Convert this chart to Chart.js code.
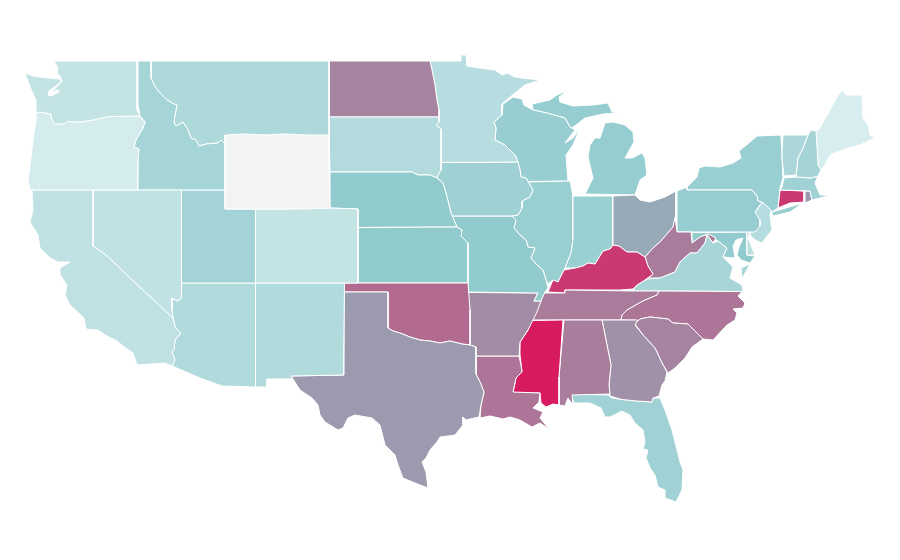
<!DOCTYPE html>
<html>
<head>
<meta charset="utf-8">
<script src="https://cdn.jsdelivr.net/npm/chart.js@4/dist/chart.umd.js"></script>
<style>
  html, body { margin: 0; background: #fff; }
  canvas { display: block; }
</style>
</head>
<body>
<canvas id="map" width="900" height="560"></canvas>
<script>
// Chart.js has no geo scale here, so the state outlines are x,y pairs read off
// the picture and plotted on two hidden linear axes.
const WA = [54,61, 137,61, 137,110, 139,114, 140,116, 109,116.5, 93,120, 80,122, 68,121.5, 64,124, 55,124, 52,120, 51,114, 40,112, 36,113, 36,100, 30,87, 25,73, 33,76, 40,77, 50,78, 60,79, 61,82, 49,91, 48,95, 51,96, 59,92, 58,90, 52,92, 62,81, 60,76, 57,74, 58,68];
const OR = [36,113, 40,112, 51,114, 52,120, 55,124, 64,124, 68,121.5, 80,122, 93,120, 109,116.5, 140,116, 145,122, 143,128, 136,140, 134,147, 139,149, 138,157, 137.5,190, 30,190, 28,180, 30,165, 33,140, 36,120];
const CA = [32,190, 93,190, 93,246, 106,255, 130,278, 145,292, 173,318, 175,327, 181,333, 175,340, 174,350, 172,352, 175,360, 172,366, 165,363, 137,365, 133,353, 123,346, 117,341, 105,335, 98,330, 86,329, 84,318, 70,305, 65,295, 67,285, 60,275, 60,268, 70,262, 58,262, 50,258, 40,248, 38,235, 30,222, 33,210];
const NV = [93,190, 181.5,190, 181.5,298, 177,301, 172,298, 172,310, 173,318, 145,292, 130,278, 106,255, 93,246];
const ID = [138,61, 151,61, 151,78, 155,87, 160,93, 167,100, 174,104, 177,105, 175,115, 174,122, 176,126, 183,122, 188,130, 191,138, 196,140, 199,146, 206,144, 218,143, 221,140, 225,144, 225,190, 138,190, 138,157, 139,149, 134,147, 136,140, 143,128, 145,122, 140,116, 139,110, 138,105];
const MT = [151,61, 329,61, 329,135, 307,135, 285,134, 265,135, 243,134, 225,135, 225,144, 221,140, 218,143, 206,144, 199,146, 196,140, 191,138, 188,130, 183,122, 176,126, 174,122, 175,115, 177,105, 174,104, 167,100, 160,93, 155,87, 151,78];
const WY = [225,135, 243,134, 265,135, 285,134, 307,135, 329,134, 329,172, 330,208, 305,209, 283,209, 255,209, 225,209];
const UT = [181.5,190, 225,190, 225,209, 255.5,209, 255.5,283, 181.5,283];
const CO = [255.5,209, 283,209, 305,208, 330,208, 358,209, 358,283, 255.5,283];
const AZ = [181.5,283, 255.5,283, 255.5,387, 222,386, 200,378, 172,366, 175,360, 172,352, 174,350, 175,340, 181,333, 175,327, 173,318, 172,310, 172,298, 177,301, 181.5,298];
const NM = [255.5,283, 344.5,283, 343.5,375, 291,376, 293,379, 267,379, 267,387, 255.5,387];
const TX = [344,292, 388,292, 388,328, 393,331, 400,333, 410,337, 420,340, 430,341, 440,343, 450,341, 462,344, 470,345, 476,347, 476,374, 480,382, 484,392, 481,405, 479,417, 466,420, 463,417, 463,425, 455,435, 440,437, 437,442, 430,450, 426,458, 422,462, 426,472, 428,488, 415,483, 403,478, 398,465, 395,455, 385,445, 380,425, 372,418, 355,415, 348,418, 343,428, 338,430, 325,422, 320,415, 318,405, 312,398, 300,390, 291,376, 344,375];
const OK = [344,283, 468,283, 470,310, 470,345, 462,344, 450,341, 440,343, 430,341, 420,340, 410,337, 400,333, 393,331, 388,328, 388,292, 344,292];
const KS = [358,227.5, 457,227, 462,230, 461,236, 468,243, 468,283, 358,283];
const NE = [330,172, 412,172, 418,175, 430,175, 437,178, 443,183, 447,197, 451,213, 457,227, 358,227.5, 358,209, 330,208];
const SD = [329.5,117, 439,117, 439,122, 436,125, 441,129, 441,170, 439,173, 437,178, 430,175, 418,175, 412,172, 330,172, 329,134];
const ND = [329.5,61, 430,61, 432,70, 435,85, 437,100, 439,110, 439,117, 329.5,117];
const MN = [430,61, 461,61, 461,55, 466,55, 467,66, 480,68, 495,70, 502,75, 507,73, 515,77, 522,78, 540,80, 525,85, 510,97, 502,104, 502,115, 494,122, 496,128, 495,140, 505,145, 515,155, 518,162, 441,162.5, 441,129, 436,125, 439,122, 439,117, 439,110, 437,100, 435,85, 432,70];
const IA = [441,162.5, 518,162, 520,170, 521,177, 526,178, 533,190, 530,197, 522,201, 522,208, 518,215, 512,216, 452,216, 451,213, 447,197, 443,183, 437,178, 439,173, 441,170];
const MO = [452,216, 512,216, 516,220, 514,228, 520,235, 526,240, 528,247, 535,248, 531,258, 537,265, 543,270, 546,280, 548,288, 545,292, 541,301, 534,301, 538,293, 468,292, 468,283, 468,243, 461,236, 462,230, 457,227];
const AR = [468,292.5, 538,293, 534,301, 541,301, 537,312, 532,322, 528,330, 520,342, 519,356, 476,356, 476,347, 470,345, 470,310];
const LA = [476,356, 519,356, 521,365, 522,372, 516,378, 513,392, 540,393, 539,402, 533,408, 543,412, 540,418, 549,429, 540,423, 532,427, 520,420, 510,417, 503,419, 490,416, 480,418, 481,405, 484,392, 480,382, 476,374];
const MS = [531,320.5, 563,320, 559,377, 559,405, 553,404, 546,407, 541,403, 540,393, 513,392.5, 516,378, 522,372, 520,355, 520,342, 528,330];
const AL = [564,320, 602,320, 608,350, 611,365, 609,385, 610,394, 572,395, 573,405, 568,398, 565,406, 559,405, 559,377];
const GA = [602,320, 638,320, 635,325, 643,335, 655,348, 662,363, 667,372, 665,381, 662,385, 659,396, 653,398, 652,402, 637,401, 622,399.5, 610,396, 609,385, 611,365, 608,350];
const SC = [635,324, 640,319, 650,317, 668,319, 673,323, 688,324, 703,339, 692,347, 685,358, 675,368, 668,373, 662,363, 655,348, 643,335];
const NC = [621,320, 622,315, 627,310, 643,301, 657,295, 659,291, 742,291.5, 738,296, 745,303, 743,308, 733,309, 737,313, 735,320, 727,325, 713,340, 703,339, 688,324, 673,323, 668,319, 650,317, 640,319, 635,324, 635,320];
const TN = [543,293, 565,293, 565,290, 635,291, 659,291, 657,295, 643,301, 627,310, 622,315, 621,320, 602,320, 564,320, 533,320, 533,318, 540,303];
const KY = [548,292, 553,280, 558,282, 564,270, 575,268, 583,266, 588,263, 595,264, 603,251, 610,249, 613,245, 619,246, 627,252, 637,252, 645,257, 648,266, 653,274, 645,280, 637,285, 633,289, 620,290, 565,290, 565,293];
const VA = [633,290, 637,285, 647,279, 660,278, 675,272, 680,262, 690,253, 697,253, 705,243, 707,235, 713,243, 718,241, 727,248, 723,257, 733,267, 730,278, 742,285, 743,291, 742,291.5, 659,291, 635,291];
const VA_SHORE = [750,264, 743,277, 743,287, 741,268];
const WV = [645,257, 653,248, 660,242, 673,227, 675,217, 677,232, 691,232, 692,243, 700,237, 708,234, 716,238, 713,243, 707,235, 705,243, 697,253, 690,253, 680,262, 675,272, 660,278, 648,278, 653,274, 648,266];
const OH = [613,196, 635,195, 640,200, 650,202, 665,197, 676,191, 676,217, 673,227, 660,242, 653,248, 645,257, 637,252, 627,252, 619,246, 613,245];
const IN = [573,196, 585,196, 613,196, 613,245, 610,249, 603,251, 595,264, 588,263, 583,266, 575,268, 565,268, 571,253, 573,240];
const IL = [528,182, 570,181, 573,196, 573,240, 571,253, 565,268, 558,282, 553,280, 548,284, 546,280, 543,270, 537,265, 531,258, 535,248, 528,247, 526,240, 520,235, 514,228, 516,220, 512,216, 518,215, 522,208, 522,201, 530,197, 533,190];
const WI = [503,104, 513,97, 522,99, 524,105, 533,110, 547,113, 565,118, 570,127, 575,130, 565,143, 573,138, 580,128, 573,145, 566,155, 568,181, 528,181.5, 526,178, 521,177, 520,170, 518,162, 515,155, 505,145, 495,140, 496,128, 494,122, 502,115];
const MI_UPPER = [533,110, 532,104, 550,100, 557,95, 568,90, 559,97, 560,102, 573,106, 593,105, 608,103, 612,112, 622,113, 603,114, 585,118, 572,128, 570,127, 565,118, 547,113];
const MI_LOWER = [585,194, 593,178, 588,157, 590,145, 595,138, 600,138, 605,123, 613,122, 625,125, 633,132, 634,142, 625,158, 632,158, 642,153, 645,158, 647,175, 640,180, 635,195];
const PA = [677,191, 687,187, 687,190, 752,190, 757,196, 758,201, 762,202, 755,212, 760,220, 760,226, 755,232, 677,232];
const NY = [687,187, 697,177, 699,168, 705,166, 720,167, 733,163, 741,158, 739,151, 750,142, 757,136, 781,135, 782,160, 783,178, 780,188, 778,208, 772,212, 803,203, 790,212, 773,216, 771,210, 762,202, 758,201, 757,196, 752,190, 687,190];
const VT = [783,135, 808,135, 803,148, 798,158, 796,175, 784,176, 782,160, 782,150];
const NH = [811,130, 816,131, 818,165, 821,170, 818,176, 811,178, 796,177, 798,158, 803,148, 808,135];
const ME = [816,131, 820,128, 830,110, 838,95, 842,90, 846,95, 862,95, 863,118, 868,125, 870,135, 875,138, 860,145, 848,148, 838,152, 830,155, 825,165, 821,170, 818,165];
const MA = [782,187, 784,178, 796,177, 811,178, 818,176, 815,183, 820,195, 830,195, 820,198, 812,200, 810,191, 780,190];
const CT = [780,190, 804,191, 804,202, 790,203, 778,208];
const RI = [805,191, 810,191, 812,200, 805,203];
const NJ = [762,202, 772,208, 770,215, 772,230, 762,243, 755,240, 750,235, 752,230, 760,224, 755,213];
const DE = [747,232, 750,232, 748,238, 755,255, 747,255];
const MD = [692,232.5, 747,232, 747,255, 755,256, 750,263, 741,260, 737,255, 739,247, 743,238, 736,240, 733,246, 735,258, 723,257, 727,248, 718,241, 712,238, 708,234, 700,237, 692,243];
const FL = [571,394, 608,395, 612,398, 622,399.5, 637,401, 652,402, 653,398, 660,398, 665,410, 672,430, 680,462, 683,470, 682,490, 676,502, 665,498, 665,490, 658,487, 655,475, 650,468, 646,458, 648,450, 643,449, 645,442, 643,430, 635,423, 630,415, 622,411, 610,417, 605,417, 601,408, 590,403, 578,403, 574,403, 572,398];

const stateNames = ["Washington", "Oregon", "California", "Nevada", "Idaho", "Montana", "Wyoming", "Utah", "Colorado", "Arizona", "New Mexico", "Texas", "Oklahoma", "Kansas", "Nebraska", "South Dakota", "North Dakota", "Minnesota", "Iowa", "Missouri", "Arkansas", "Louisiana", "Mississippi", "Alabama", "Georgia", "South Carolina", "North Carolina", "Tennessee", "Kentucky", "Virginia", "Virginia", "West Virginia", "Ohio", "Indiana", "Illinois", "Wisconsin", "Michigan", "Michigan", "Pennsylvania", "New York", "Vermont", "New Hampshire", "Maine", "Massachusetts", "Connecticut", "Rhode Island", "New Jersey", "Delaware", "Maryland", "Florida"];
const stateShapes = [WA, OR, CA, NV, ID, MT, WY, UT, CO, AZ, NM, TX, OK, KS, NE, SD, ND, MN, IA, MO, AR, LA, MS, AL, GA, SC, NC, TN, KY, VA, VA_SHORE, WV, OH, IN, IL, WI, MI_UPPER, MI_LOWER, PA, NY, VT, NH, ME, MA, CT, RI, NJ, DE, MD, FL];
// read from the fill colours; null = no data (Wyoming)
const stateValues = [9, 1.3, 10.7, 9.9, 21.4, 18, null, 22.7, 9, 16.7, 17, 45, 66, 30, 30, 15.9, 55, 13.7, 24.4, 30, 51, 61, 100, 57.6, 49.5, 55, 61, 58.5, 87, 20.6, 20.6, 58, 40.4, 26, 26.6, 27.4, 28.3, 28.3, 27.9, 26.6, 19.3, 21.9, 0, 24, 87, 45, 15, 12, 30, 24];

const rampStops = [0, 30, 45, 100];
const rampColors = [[216, 237, 239], [146, 203, 206], [155, 154, 174], [216, 27, 96]];
const NO_DATA = "#f2f3f5";

function colorFor(v) {
  if (v === null) return NO_DATA;
  let i = 0;
  while (i < rampStops.length - 2 && v > rampStops[i + 1]) i++;
  const t = (v - rampStops[i]) / (rampStops[i + 1] - rampStops[i]);
  const c = rampColors[i].map((a, k) => Math.round(a + (rampColors[i + 1][k] - a) * t));
  return `rgb(${c[0]},${c[1]},${c[2]})`;
}

function toPoints(flat) {
  const pts = [];
  for (let i = 0; i < flat.length; i += 2) pts.push({ x: flat[i], y: flat[i + 1] });
  pts.push({ x: flat[0], y: flat[1] });
  return pts;
}

new Chart(document.getElementById("map"), {
  type: "scatter",
  data: {
    datasets: stateShapes.map((shape, i) => ({
      label: stateNames[i],
      data: toPoints(shape),
      showLine: true,
      fill: "shape",
      backgroundColor: colorFor(stateValues[i]),
      borderColor: "#fff",
      borderWidth: 1,
      pointRadius: 0,
      tension: 0,
      clip: false,
    })),
  },
  options: {
    responsive: false,
    animation: false,
    layout: { padding: 0 },
    plugins: { legend: { display: false }, tooltip: { enabled: false } },
    scales: {
      x: { type: "linear", display: false, min: 0, max: 900 },
      y: { type: "linear", display: false, min: 0, max: 560, reverse: true },
    },
  },
});
</script>
</body>
</html>
